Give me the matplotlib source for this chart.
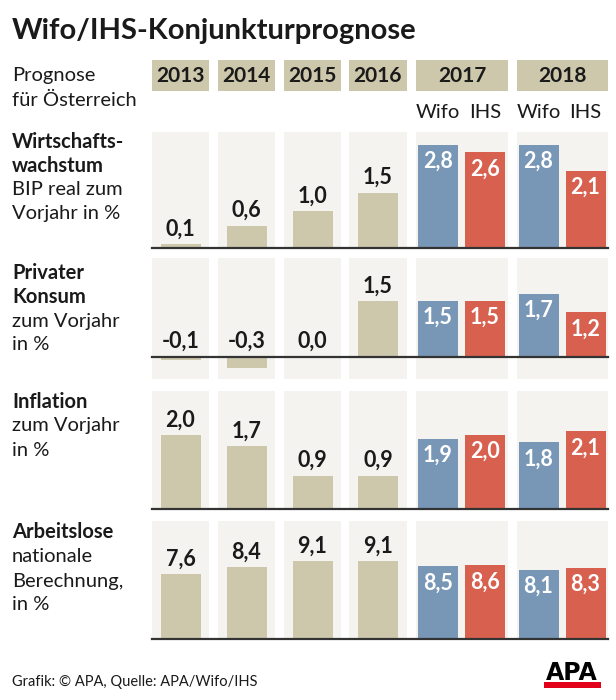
import matplotlib.pyplot as plt

W, H = 616, 700
plt.rcParams['font.family'] = ['Lato', 'DejaVu Sans']

# data
years = ['2013', '2014', '2015', '2016', '2017', '2018']
sources = ['Wifo', 'IHS']

growth_hist = [0.1, 0.6, 1.0, 1.5]
growth_wifo = [2.8, 2.8]
growth_ihs = [2.6, 2.1]

consum_hist = [-0.1, -0.3, 0.0, 1.5]
consum_wifo = [1.5, 1.7]
consum_ihs = [1.5, 1.2]

infl_hist = [2.0, 1.7, 0.9, 0.9]
infl_wifo = [1.9, 1.8]
infl_ihs = [2.0, 2.1]

unemp_hist = [7.6, 8.4, 9.1, 9.1]
unemp_wifo = [8.5, 8.1]
unemp_ihs = [8.6, 8.3]

panel_labels = [
    [('Wirtschafts-', True), ('wachstum', True), ('BIP real zum', False), ('Vorjahr in %', False)],
    [('Privater', True), ('Konsum', True), ('zum Vorjahr', False), ('in %', False)],
    [('Inflation', True), ('zum Vorjahr', False), ('in %', False)],
    [('Arbeitslose', True), ('nationale', False), ('Berechnung,', False), ('in %', False)],
]
panel_data = [
    (growth_hist, growth_wifo, growth_ihs),
    (consum_hist, consum_wifo, consum_ihs),
    (infl_hist, infl_wifo, infl_ihs),
    (unemp_hist, unemp_wifo, unemp_ihs),
]

# layout in pixels
TAN = '#cdc8ac'
BLUE = '#7896b6'
RED = '#d8604f'
BG = '#f4f3ef'
INK = '#1a1a1a'

box_left = [152, 218, 284, 349, 416, 517]
box_w = [57, 57, 57, 58, 92, 91]
bar_w = 40
hist_x = [box_left[i] + box_w[i] / 2 for i in range(4)]
wifo_x = [box_left[4] + 22, box_left[5] + 21.5]
ihs_x = [box_left[4] + 69, box_left[5] + 68.5]

# top, bottom, zero line, px per unit, label rows
panels = [
    (132, 248, 248, 36.8, [142, 166, 190, 214]),
    (258, 379, 356.5, 37.0, [273, 297, 321, 345]),
    (391, 509, 509, 37.0, [402, 426, 450]),
    (521, 639, 639, 8.55, [532, 557, 581, 605]),
]

fig = plt.figure(figsize=(W / 100, H / 100), dpi=100)


def fy(y):
    return 1 - y / H


def px_axes(x0, y0, x1, y1):
    ax = fig.add_axes([x0 / W, 1 - y1 / H, (x1 - x0) / W, (y1 - y0) / H])
    ax.set_xlim(x0, x1)
    ax.axis('off')
    return ax


def fmt(v):
    return f'{v:.1f}'.replace('.', ',')


fig.text(12 / W, fy(31), 'Wifo/IHS-Konjunkturprognose', fontsize=21,
         fontweight='bold', color=INK, va='center')
fig.text(12 / W, fy(76), 'Prognose', fontsize=14.5, color=INK, va='center')
fig.text(12 / W, fy(100), 'für Österreich', fontsize=14.5, color=INK, va='center')

# header boxes with years
hax = px_axes(152, 60, 608, 91)
hax.set_ylim(0, 1)
centres = [box_left[i] + box_w[i] / 2 for i in range(6)]
hax.bar(centres, [1] * 6, width=box_w, color=TAN, align='center')
for c, yr in zip(centres, years):
    hax.text(c, 0.5, yr, ha='center', va='center', fontsize=15,
             fontweight='bold', color=INK)

for k in range(2):
    fig.text(wifo_x[k] / W, fy(113), sources[0], fontsize=14.5, color=INK,
             ha='center', va='center')
    fig.text(ihs_x[k] / W, fy(113), sources[1], fontsize=14.5, color=INK,
             ha='center', va='center')

for (top, bottom, zero, ppu, rows), labels, (hist, wifo, ihs) in zip(panels, panel_labels, panel_data):
    ax = px_axes(152, top, 608, bottom)
    ax.set_ylim(-(bottom - zero) / ppu, (zero - top) / ppu)
    for left, w in zip(box_left, box_w):
        ax.axvspan(left, left + w, color=BG, lw=0)

    ax.bar(hist_x, hist, width=bar_w, color=TAN)
    ax.bar(wifo_x, wifo, width=bar_w, color=BLUE)
    ax.bar(ihs_x, ihs, width=bar_w, color=RED)
    ax.axhline(0, color='#333333', lw=1.6, clip_on=False)

    for x, v in zip(hist_x, hist):
        ax.annotate(fmt(v), (x, max(v, 0)), xytext=(0, 11), textcoords='offset points',
                    ha='center', va='center', fontsize=15.5, fontweight='bold', color=INK)
    for xs, vals in ((wifo_x, wifo), (ihs_x, ihs)):
        for x, v in zip(xs, vals):
            ax.annotate(fmt(v), (x, v), xytext=(0, -12), textcoords='offset points',
                        ha='center', va='center', fontsize=15.5, fontweight='bold', color='white')

    for y, (txt, bold) in zip(rows, labels):
        fig.text(12 / W, fy(y), txt, fontsize=14.5, color=INK, va='center',
                 fontweight='bold' if bold else 'normal')

fig.text(12 / W, fy(682), 'Grafik: © APA, Quelle: APA/Wifo/IHS', fontsize=10.5,
         color=INK, va='center')

# APA logo
fig.text(572 / W, fy(673), 'APA', fontsize=17, fontweight='heavy', color='black',
         ha='center', va='center', family='DejaVu Sans')
lax = px_axes(544, 682, 601, 688)
lax.set_ylim(0, 1)
lax.axhspan(0, 1, color='#e3001b', lw=0)

fig.savefig('out.png', dpi=100)
